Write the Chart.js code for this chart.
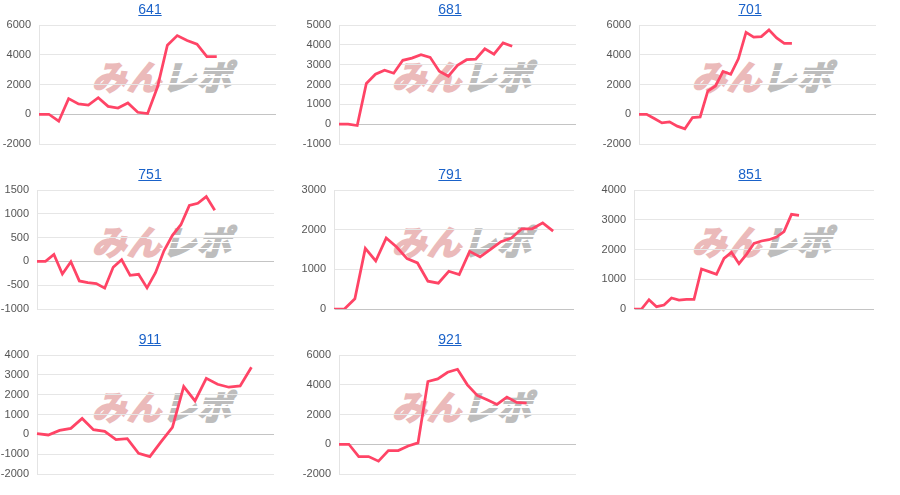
<!DOCTYPE html>
<html>
<head>
<meta charset="utf-8">
<script src="https://cdn.jsdelivr.net/npm/chart.js@4.4.0/dist/chart.umd.min.js"></script>
<style>
body { margin: 0; background: #fff; width: 900px; height: 495px; overflow: hidden; }
.panel { position: absolute; width: 300px; height: 165px; }
.panel canvas { position: absolute; left: 0; top: 0; z-index: 1; }
.ttl { position: absolute; top: 1px; left: 0; width: 300px; text-align: center; z-index: 2;
  font-family: "Liberation Sans", Arial, sans-serif; font-size: 14px; }
.ttl a { color: #1a62c9; text-decoration: underline; }
.wm { position: absolute; left: 96px; top: 51px; z-index: 0; white-space: nowrap;
  font-family: "Noto Sans CJK JP", sans-serif; font-weight: 700; font-size: 34px; letter-spacing: 1px;
  transform: skewX(-16deg); }
.wm .a { color: #ebbaba; -webkit-text-stroke: 2px #ebbaba; }
.wm .b { position: relative; color: #bdbdbd; -webkit-text-stroke: 2px #bdbdbd; }
.wm .b:after { content: ""; position: absolute; left: -4px; right: -4px; top: 14px; bottom: 12px;
  background: repeating-linear-gradient(rgba(255,255,255,0) 0 5px, #fff 5px 6.5px); }
</style>
</head>
<body>
<div id="wrap"></div>
<script>
// machine numbers (titles)
var names = ["641", "681", "701", "751", "791", "851", "911", "921"];

// slump data per machine
var d641 = [0, 0, -470, 1050, 690, 620, 1110, 530, 420, 760, 130, 45, 1830, 4640, 5290, 4960, 4710, 3880, 3880];
var d681 = [0, 0, -70, 2050, 2520, 2720, 2570, 3220, 3330, 3500, 3370, 2670, 2420, 2970, 3250, 3280, 3800, 3530, 4100, 3930];
var d701 = [0, 0, -290, -580, -510, -800, -980, -220, -180, 1560, 1900, 2880, 2680, 3730, 5510, 5180, 5220, 5670, 5130, 4770, 4770];
var d751 = [0, 0, 146, -264, -7, -410, -444, -465, -562, -125, 35, -292, -271, -556, -236, 222, 549, 771, 1174, 1222, 1361, 1076];
var d791 = [0, 0, 259, 1529, 1211, 1788, 1562, 1270, 1161, 702, 652, 952, 869, 1454, 1312, 1504, 1696, 1788, 2022, 2022, 2172, 1963];
var d851 = [0, 0, 314, 78, 134, 370, 302, 325, 325, 1345, 1255, 1165, 1703, 1905, 1524, 1838, 2207, 2286, 2330, 2420, 2600, 3182, 3148];
var d911 = [33, -33, 200, 300, 803, 234, 150, -268, -217, -953, -1120, -368, 351, 2408, 1689, 2826, 2525, 2375, 2441, 3378];
var d921 = [0, 0, -825, -825, -1138, -424, -424, -112, 89, 4216, 4394, 4840, 5041, 3993, 3279, 2989, 2677, 3168, 2811, 2766];
var series = [d641, d681, d701, d751, d791, d851, d911, d921];

// x slots (intervals) on each chart's axis
var slots = [24, 26, 31, 28, 23, 32, 21, 24];

// y axis ranges
var yMin = [-2000, -1000, -2000, -1000, 0, 0, -2000, -2000];
var yMax = [6000, 5000, 6000, 1500, 3000, 4000, 4000, 6000];
var yStep = [2000, 1000, 2000, 500, 1000, 1000, 1000, 2000];

// plot left / right edges
var plotLeft = [39, 39, 39, 37, 34, 34, 37, 39];
var plotRight = [276, 276, 276, 274, 274, 274, 274, 276];

var wrap = document.getElementById("wrap");

for (var i = 0; i < names.length; i++) {
    var col = i % 3, row = Math.floor(i / 3);
    var p = document.createElement("div");
    p.className = "panel";
    p.style.left = (col * 300) + "px";
    p.style.top = (row * 165) + "px";
    p.innerHTML = '<div class="wm"><span class="a">みん</span><span class="b">レポ</span></div>' +
        '<canvas width="300" height="165"></canvas>' +
        '<div class="ttl"><a href="#">' + names[i] + '</a></div>';
    wrap.appendChild(p);

    var labels = [];
    for (var k = 0; k <= slots[i]; k++) labels.push(k);

    (function (idx, canvas) {
        new Chart(canvas, {
            type: 'line',
            data: {
                labels: labels,
                datasets: [{
                    data: series[idx],
                    borderColor: '#ff4466',
                    borderWidth: 2.75,
                    pointRadius: 0,
                    tension: 0,
                    fill: false
                }]
            },
            options: {
                responsive: false,
                animation: false,
                layout: { padding: { left: 0, top: 25, right: 300 - plotRight[idx], bottom: 21 } },
                plugins: { legend: { display: false }, tooltip: { enabled: false } },
                scales: {
                    x: { display: false },
                    y: {
                        min: yMin[idx],
                        max: yMax[idx],
                        afterFit: function (s) { s.width = plotLeft[idx]; },
                        border: { display: true, color: '#e4e4e4', width: 1 },
                        grid: {
                            drawTicks: false,
                            color: function (c) { return c.tick && c.tick.value === 0 ? '#c4c4c4' : '#e6e6e6'; }
                        },
                        ticks: {
                            stepSize: yStep[idx],
                            padding: 8,
                            color: '#555',
                            font: { family: '"Liberation Sans", Arial, sans-serif', size: 11 },
                            callback: function (v) { return String(v); }
                        }
                    }
                }
            }
        });
    })(i, p.querySelector("canvas"));
}
</script>
</body>
</html>
